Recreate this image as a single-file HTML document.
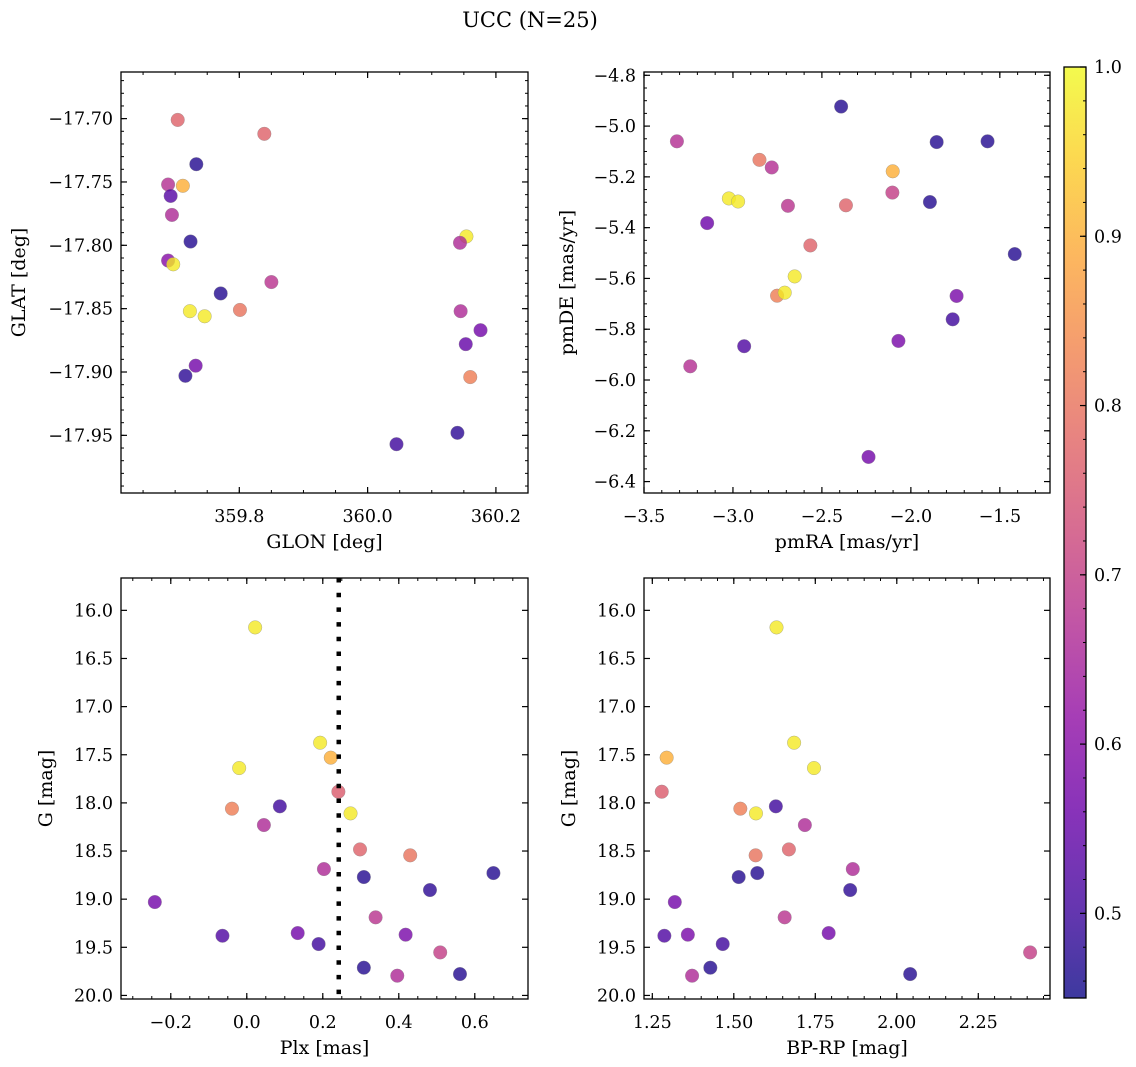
<!DOCTYPE html>
<html><head><meta charset="utf-8">
<style>
html,body{margin:0;padding:0;background:#fff;}
svg{display:block;font-family:"DejaVu Serif","Liberation Serif",serif;}
</style></head>
<body>
<svg id="fig" width="1136" height="1067" viewBox="0 0 1136 1067">
<defs>
<linearGradient id="plasmaGrad" x1="0" y1="1" x2="0" y2="0">
<stop offset="0" stop-color="#0d0887"/><stop offset="0.1" stop-color="#41049d"/><stop offset="0.2" stop-color="#6a00a8"/>
<stop offset="0.3" stop-color="#8f0da4"/><stop offset="0.4" stop-color="#b12a90"/><stop offset="0.5" stop-color="#cc4778"/>
<stop offset="0.6" stop-color="#e16462"/><stop offset="0.7" stop-color="#f2844b"/><stop offset="0.8" stop-color="#fca636"/>
<stop offset="0.9" stop-color="#fcce25"/><stop offset="1" stop-color="#f0f921"/>
</linearGradient>
</defs>
<text x="530" y="27" font-size="21" text-anchor="middle">UCC (N=25)</text>
</svg>
<script>
// ---- data ----
const glon = [359.704,359.839,359.733,359.689,359.712,359.693,359.695,359.724,359.689,359.697,359.850,359.771,359.723,359.746,359.801,359.732,359.716,360.045,360.140,360.154,360.144,360.145,360.176,360.153,360.160];
const glat = [-17.701,-17.712,-17.736,-17.752,-17.753,-17.761,-17.776,-17.797,-17.812,-17.815,-17.829,-17.838,-17.852,-17.856,-17.851,-17.895,-17.903,-17.957,-17.948,-17.793,-17.798,-17.852,-17.867,-17.878,-17.904];
const probA = [0.77,0.77,0.47,0.67,0.90,0.53,0.66,0.47,0.60,0.98,0.68,0.47,0.98,0.98,0.80,0.57,0.48,0.50,0.48,0.98,0.66,0.66,0.57,0.55,0.82];

const pmra = [-2.392,-3.315,-1.855,-1.569,-2.851,-2.782,-2.102,-3.023,-2.971,-2.104,-2.691,-2.365,-1.893,-3.145,-2.565,-1.416,-2.653,-2.752,-2.709,-1.743,-1.765,-2.070,-2.937,-3.240,-2.238];
const pmde = [-4.923,-5.060,-5.063,-5.060,-5.133,-5.163,-5.178,-5.285,-5.297,-5.262,-5.314,-5.312,-5.299,-5.382,-5.470,-5.504,-5.592,-5.668,-5.656,-5.669,-5.761,-5.846,-5.867,-5.946,-6.303];
const probB = [0.47,0.67,0.47,0.47,0.80,0.67,0.90,0.98,0.98,0.70,0.68,0.77,0.47,0.56,0.77,0.47,0.98,0.82,0.98,0.58,0.50,0.58,0.52,0.67,0.57];

const plx = [0.022,0.193,0.221,-0.020,0.241,-0.039,0.087,0.273,0.045,0.298,0.430,0.203,0.308,0.649,0.482,-0.242,0.339,-0.064,0.134,0.418,0.189,0.509,0.308,0.396,0.561];
const gmag = [16.177,17.375,17.530,17.638,17.884,18.060,18.036,18.109,18.230,18.483,18.545,18.687,18.770,18.729,18.905,19.030,19.189,19.380,19.352,19.369,19.466,19.553,19.712,19.795,19.778];
const bprp = [1.631,1.685,1.294,1.746,1.279,1.520,1.629,1.568,1.718,1.669,1.567,1.865,1.515,1.572,1.857,1.319,1.656,1.287,1.791,1.359,1.466,2.409,1.428,1.372,2.041];
const probC = [0.98,0.98,0.90,0.98,0.76,0.82,0.50,0.98,0.66,0.77,0.80,0.66,0.47,0.47,0.48,0.57,0.68,0.52,0.57,0.58,0.50,0.70,0.47,0.66,0.47];
const plxLine = 0.242;

const glonTicks = [359.8,360.0,360.2];
const glatTicks = [-17.70,-17.75,-17.80,-17.85,-17.90,-17.95];
const pmraTicks = [-3.5,-3.0,-2.5,-2.0,-1.5];
const pmdeTicks = [-4.8,-5.0,-5.2,-5.4,-5.6,-5.8,-6.0,-6.2,-6.4];
const plxTicks = [-0.2,0.0,0.2,0.4,0.6];
const gTicks = [16.0,16.5,17.0,17.5,18.0,18.5,19.0,19.5,20.0];
const bprpTicks = [1.25,1.50,1.75,2.00,2.25];
const cbarTicks = [0.5,0.6,0.7,0.8,0.9,1.0];
const cMin = 0.45, cMax = 1.0;

// ---- helpers ----
const NS = "http://www.w3.org/2000/svg";
const svg = document.getElementById('fig');
const TICK_FS = 17.5, LABEL_FS = 19;
function mk(tag, attrs, parent){ const e=document.createElementNS(NS,tag); for(const k in attrs) e.setAttribute(k,attrs[k]); (parent||svg).appendChild(e); return e; }
const stops=[[13,8,135],[65,4,157],[106,0,168],[143,13,164],[177,42,144],[204,71,120],[225,100,98],[242,132,75],[252,166,54],[252,206,37],[240,249,33]];
function plasma(v){ let t=(v-cMin)/(cMax-cMin); t=Math.max(0,Math.min(1,t))*10; const i=Math.min(9,Math.floor(t)), f=t-i; const a=stops[i], b=stops[i+1]; return 'rgb('+a.map((x,j)=>Math.round(x+(b[j]-x)*f)).join(',')+')'; }
function fmtTick(v, dec){ const s=Math.abs(v).toFixed(dec); return (v<0?'\u2212':'')+s; }

function panel(cfg){
  const {name,L,T,R,B,xmin,xmax,ymin,ymax,xt,yt,xdec,ydec,xminor,yminor,xlabel,ylabel,ylabX,xs,ys,cs} = cfg;
  const g = mk('g',{});
  
  
  const sx = v => L + (v-xmin)/(xmax-xmin)*(R-L);
  const sy = v => B - (v-ymin)/(ymax-ymin)*(B-T);
  const mt = mk('g',{stroke:'#000','stroke-width':1},g);
  
  
  for(let v=Math.ceil(xmin/xminor)*xminor; v<=xmax+1e-9; v+=xminor){ const x=sx(v); mk('line',{x1:x,x2:x,y1:B,y2:B-3},mt); mk('line',{x1:x,x2:x,y1:T,y2:T+3},mt); }
  for(let v=Math.ceil(ymin/yminor)*yminor; v<=ymax+1e-9; v+=yminor){ const y=sy(v); mk('line',{x1:L,x2:L+3,y1:y,y2:y},mt); mk('line',{x1:R,x2:R-3,y1:y,y2:y},mt); }
  xt.forEach(v=>{ const x=sx(v);
    mk('line',{x1:x,x2:x,y1:B,y2:B-6,stroke:'#000','stroke-width':1.2},g); mk('line',{x1:x,x2:x,y1:T,y2:T+6,stroke:'#000','stroke-width':1.2},g);
    const t=mk('text',{x:x,y:B+29,'font-size':TICK_FS,'text-anchor':'middle'},g); t.textContent=fmtTick(v,xdec);
    
    
  });
  yt.forEach(v=>{ const y=sy(v);
    mk('line',{x1:L,x2:L+6,y1:y,y2:y,stroke:'#000','stroke-width':1.2},g); mk('line',{x1:R,x2:R-6,y1:y,y2:y,stroke:'#000','stroke-width':1.2},g);
    const t=mk('text',{x:L-8,y:y+6,'font-size':TICK_FS,'text-anchor':'end'},g); t.textContent=fmtTick(v,ydec);
    
    
  });
  const pg = mk('g',{},g);
  
  
  xs.forEach((xv,i)=>{
    const c = mk('circle',{cx:sx(xv),cy:sy(ys[i]),r:6.8,fill:plasma(cs[i]),'fill-opacity':0.8,stroke:'#888','stroke-width':0.4,'stroke-opacity':0.8},pg);
    
    
  });
  if(cfg.vline!==undefined){
    const x=sx(cfg.vline);
    const ln=mk('line',{x1:x,x2:x,y1:T,y2:B,stroke:'#000','stroke-width':4.5,'stroke-dasharray':'4.5 10.2'},g);
    
    
  }
  const fr=mk('rect',{x:L,y:T,width:R-L,height:B-T,fill:'none',stroke:'#000','stroke-width':1.3},g);
  
  
  const xl=mk('text',{x:(L+R)/2,y:B+55,'font-size':LABEL_FS,'text-anchor':'middle'},g); xl.textContent=xlabel;
  
  
  const cy=(T+B)/2;
  const yl=mk('text',{x:ylabX,y:cy,'font-size':LABEL_FS,'text-anchor':'middle',transform:'rotate(-90 '+ylabX+' '+cy+')'},g); yl.textContent=ylabel;
  
  
}

panel({name:'glon-glat',L:121,T:72,R:528,B:493,xmin:359.6156,xmax:360.250,ymin:-17.9955,ymax:-17.6632,xt:glonTicks,yt:glatTicks,xdec:1,ydec:2,xminor:0.05,yminor:0.01,xlabel:'GLON [deg]',ylabel:'GLAT [deg]',ylabX:25,xs:glon,ys:glat,cs:probA});
panel({name:'pm',L:644,T:72,R:1050,B:493,xmin:-3.5,xmax:-1.218,ymin:-6.445,ymax:-4.787,xt:pmraTicks,yt:pmdeTicks,xdec:1,ydec:1,xminor:0.1,yminor:0.05,xlabel:'pmRA [mas/yr]',ylabel:'pmDE [mas/yr]',ylabX:573,xs:pmra,ys:pmde,cs:probB});
panel({name:'plx-g',L:121,T:578,R:528,B:999,xmin:-0.331,xmax:0.740,ymin:20.037,ymax:15.664,xt:plxTicks,yt:gTicks,xdec:1,ydec:1,xminor:0.05,yminor:0.1,xlabel:'Plx [mas]',ylabel:'G [mag]',ylabX:52,xs:plx,ys:gmag,cs:probC,vline:plxLine});
panel({name:'cmd',L:644,T:578,R:1050,B:999,xmin:1.2245,xmax:2.470,ymin:20.037,ymax:15.664,xt:bprpTicks,yt:gTicks,xdec:2,ydec:1,xminor:0.05,yminor:0.1,xlabel:'BP-RP [mag]',ylabel:'G [mag]',ylabX:575,xs:bprp,ys:gmag,cs:probC});

(function(){
  const L=1064,R=1086,T=67,B=998;
  const g=mk('g',{});
  
  
  mk('rect',{x:L,y:T,width:R-L,height:B-T,fill:'url(#plasmaGrad)','fill-opacity':0.8},g);
  mk('rect',{x:L,y:T,width:R-L,height:B-T,fill:'none',stroke:'#000','stroke-width':1.3},g);
  const sy=v=>B-(v-cMin)/(cMax-cMin)*(B-T);
  for(let v=0.46; v<=1.0001; v+=0.02){ const y=sy(v); mk('line',{x1:R,x2:R-3,y1:y,y2:y,stroke:'#000','stroke-width':1},g); }
  cbarTicks.forEach(v=>{ const y=sy(v);
    mk('line',{x1:R,x2:R-6,y1:y,y2:y,stroke:'#000','stroke-width':1.2},g);
    const t=mk('text',{x:R+8,y:y+6,'font-size':TICK_FS},g); t.textContent=v.toFixed(1);
    
    
  });
})();
</script>
</body></html>
